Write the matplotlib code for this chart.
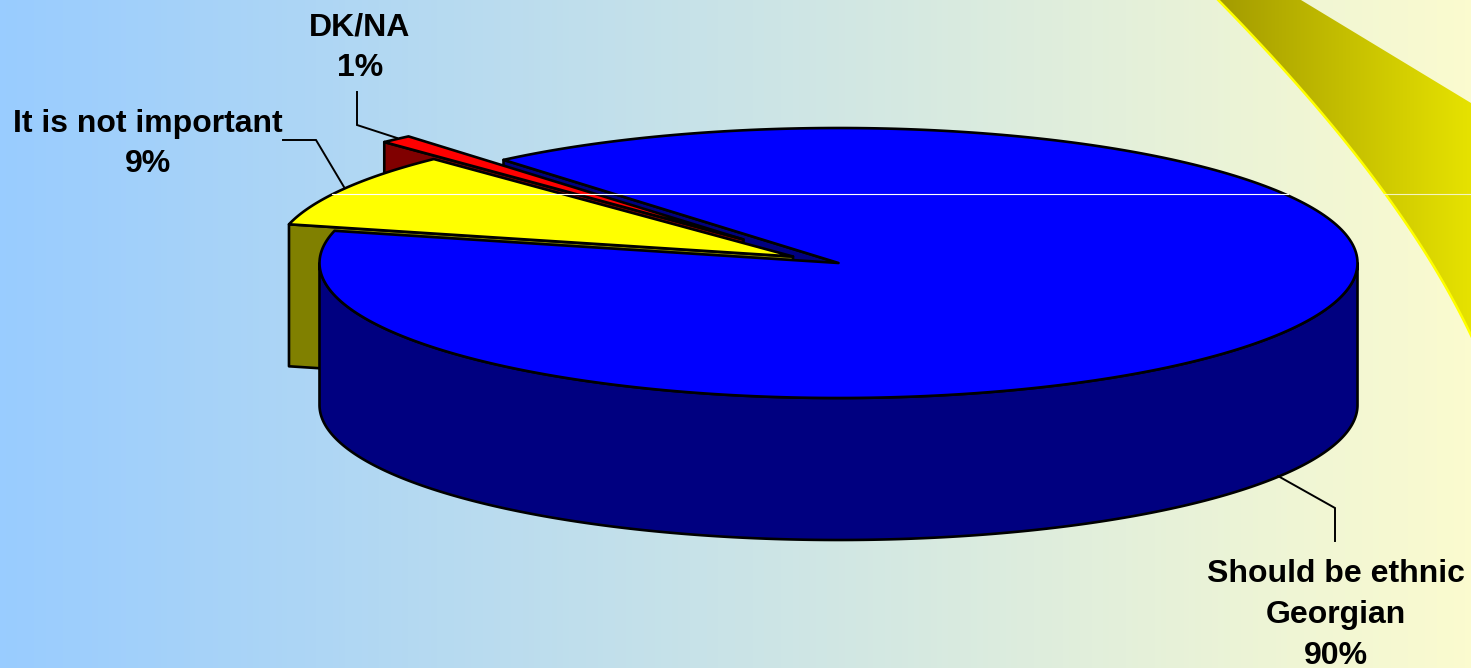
import numpy as np
import matplotlib
matplotlib.use("Agg")
import matplotlib.pyplot as plt
from matplotlib.patches import Polygon
from matplotlib.colors import LinearSegmentedColormap

# ---- data ----
categories = ["Should be ethnic\nGeorgian", "It is not important", "DK/NA"]
values = [90, 9, 1]

# ---- styling / layout ----
W, H = 1471, 668
CX, CY, RX, RY, DEPTH = 838.5, 263.0, 519.0, 135.0, 142.0
START_ANGLE = 130.2
OFFSETS = [(0, 0), (-45.5, -6.5), (-95, -23.5)]
TOP = ["#0000ff", "#ffff00", "#ff0000"]
SIDE = ["#000080", "#808000", "#800000"]
LABEL_POS = [(1336, 615), (148, 144), (360, 48)]
LEADERS = [
    [(1278, 476), (1335, 508), (1335, 541)],
    [(283, 140), (316, 140), (344, 187)],
    [(357, 92), (357, 125), (397, 138)],
]
LW = 1.9

plt.rcParams["font.family"] = ["Liberation Sans", "DejaVu Sans"]
fig = plt.figure(figsize=(W / 100, H / 100), dpi=100)
ax = fig.add_axes([0, 0, 1, 1])
ax.set_xlim(0, W)
ax.set_ylim(H, 0)
ax.axis("off")

# background gradient
bg = LinearSegmentedColormap.from_list("bg", ["#99ccff", "#fbfbcf"])
ax.imshow(np.linspace(0, 1, 256)[None, :], cmap=bg, extent=(0, W, H, 0), aspect="auto", zorder=0)

# decorative swoosh, top right
knots = np.array([(1218, 0), (1314, 103), (1384, 193), (1398, 213), (1451, 293), (1471, 337)], float)
coef = np.polyfit(knots[:, 1], knots[:, 0], 3)
yy = np.linspace(0, 337, 120)
curve = np.column_stack([np.polyval(coef, yy), yy])
swoosh_xy = np.vstack([curve, [(1471, 337), (1471, 103), (1301, 0)]])
sw = LinearSegmentedColormap.from_list("sw", ["#a39b00", "#e6e200"])
im = ax.imshow(np.linspace(0, 1, 256)[None, :], cmap=sw, extent=(1218, 1471, H, 0), aspect="auto", zorder=1)
clip = Polygon(swoosh_xy, closed=True, transform=ax.transData, fc="none", ec="none")
ax.add_patch(clip)
im.set_clip_path(clip)
ax.plot(curve[:, 0], curve[:, 1], color="#ffff00", lw=1.8, zorder=2)
ax.set_xlim(0, W)
ax.set_ylim(H, 0)


def ell(a, c):
    t = np.radians(a)
    return np.column_stack([c[0] + RX * np.cos(t), c[1] - RY * np.sin(t)])


# slice angles, clockwise from the start angle
fractions = np.array(values) / sum(values)
edges = START_ANGLE - np.concatenate([[0], np.cumsum(fractions)]) * 360.0
slices = []
for i in range(len(values)):
    c = (CX + OFFSETS[i][0], CY + OFFSETS[i][1])
    slices.append((c, edges[i], edges[i + 1]))


def poly(pts, fc, z):
    ax.add_patch(Polygon(pts, closed=True, fc=fc, ec="black", lw=LW, joinstyle="round", zorder=z))


def wall(c, a, fc, z):
    p = ell([a], c)[0]
    poly([c, p, (p[0], p[1] + DEPTH), (c[0], c[1] + DEPTH)], fc, z)


def top(i, z):
    c, a0, a1 = slices[i]
    arc = ell(np.linspace(a0, a1, 300), c)
    poly(np.vstack([[c], arc]), TOP[i], z)


# painter's order, back to front
# wall of the main slice, start edge
wall(slices[0][0], slices[0][1], SIDE[0], 3)
# smallest slice
wall(slices[2][0], slices[2][1], SIDE[2], 4)
top(2, 5)
# middle slice
wall(slices[1][0], slices[1][1], SIDE[1], 6)
top(1, 7)
# main slice: rim then top
rim = ell(np.linspace(180, 360, 300), slices[0][0])
rim_low = rim[::-1] + np.array([0, DEPTH])
poly(np.vstack([rim, rim_low]), SIDE[0], 8)
top(0, 9)

# thin white scan line
ax.plot([332, 1288], [194, 194], color="white", lw=0.8, zorder=10)
ax.plot([1384, 1471], [194, 194], color="#f4f4c0", lw=0.8, zorder=10)

# leaders and labels
for pts in LEADERS:
    a = np.array(pts)
    ax.plot(a[:, 0], a[:, 1], color="black", lw=1.4, zorder=11, solid_joinstyle="miter")
for cat, v, (x, y) in zip(categories, values, LABEL_POS):
    ax.text(x, y, f"{cat}\n{v}%", ha="center", va="center", fontsize=23,
            fontweight="bold", color="black", linespacing=1.46, zorder=12)

fig.savefig("out.png", dpi=100)
